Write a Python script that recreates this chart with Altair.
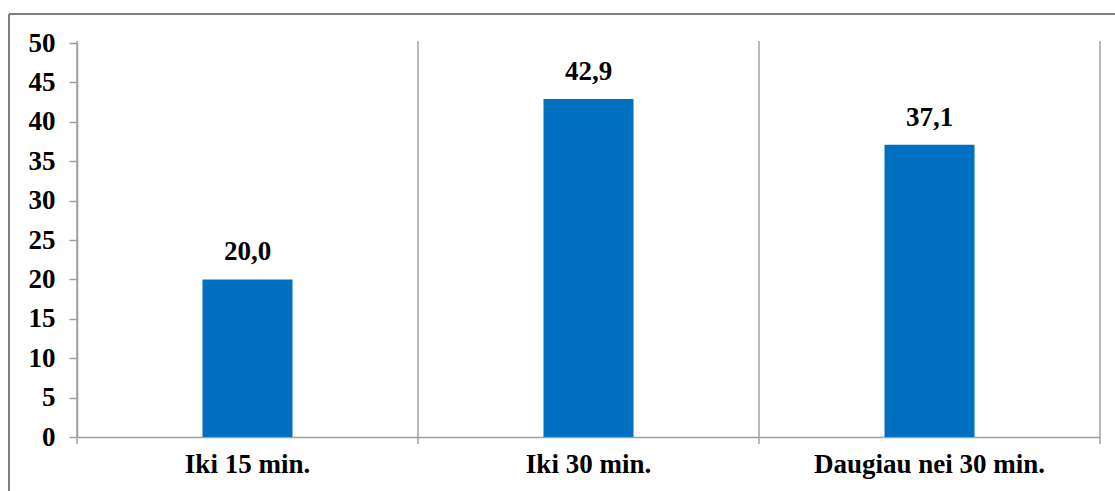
import altair as alt
import pandas as pd

# Share of respondents by time spent (per cent)
categories = ["Iki 15 min.", "Iki 30 min.", "Daugiau nei 30 min."]
values = [20.0, 42.9, 37.1]
y_ticks = [0, 5, 10, 15, 20, 25, 30, 35, 40, 45, 50]

labels = [f"{v:.1f}".replace(".", ",") for v in values]
df = pd.DataFrame({"cat": categories, "val": values, "label": labels})

W, H = 1023, 394
FONT = "Liberation Serif"
AXIS_GRAY = "#a0a0a0"
BAR_BLUE = "#0070C0"

x_scale = alt.Scale(domain=categories, paddingInner=0, paddingOuter=0)
y_scale = alt.Scale(domain=[0, 50], nice=False)

x_enc = alt.X(
    "cat:N",
    scale=x_scale,
    sort=categories,
    axis=alt.Axis(
        title=None, ticks=False, labelAngle=0, labelPadding=14,
        bandPosition=0.5, labelAlign="center", labelLimit=0,
        labelFont=FONT, labelFontSize=27, labelFontWeight="bold",
        labelColor="black", domainColor=AXIS_GRAY, domainWidth=1.5,
    ),
)
y_enc = alt.Y(
    "val:Q",
    scale=y_scale,
    axis=alt.Axis(
        title=None, values=y_ticks, tickCount=len(y_ticks), grid=False,
        tickSize=8, tickColor=AXIS_GRAY, tickWidth=1.5,
        domainColor=AXIS_GRAY, domainWidth=1.5, labelPadding=14,
        labelFont=FONT, labelFontSize=27, labelFontWeight="bold",
        labelColor="black", labelOverlap=False,
    ),
)

bars = alt.Chart(df).mark_bar(
    color=BAR_BLUE, width=alt.RelativeBandSize(0.264)
).encode(x=x_enc, y=y_enc)

text = alt.Chart(df).mark_text(
    font=FONT, fontSize=27, fontWeight="bold", color="black",
    baseline="bottom", dy=-13,
).encode(
    x=alt.X("cat:N", scale=x_scale, sort=categories),
    y=alt.Y("val:Q", scale=y_scale),
    text="label:N",
)

# Vertical separators at category boundaries, running a little below the axis
sep_left = alt.Chart(df).mark_rule(color=AXIS_GRAY, strokeWidth=1.5).encode(
    x=alt.X("cat:N", scale=x_scale, sort=categories, bandPosition=0),
    y=alt.value(-2),
    y2=alt.value(H + 7),
)
sep_right = alt.Chart(df.tail(1)).mark_rule(color=AXIS_GRAY, strokeWidth=1.5).encode(
    x=alt.X("cat:N", scale=x_scale, sort=categories, bandPosition=1),
    y=alt.value(-2),
    y2=alt.value(H + 7),
)

# Outer chart frame (top and left edges)
frame_df = pd.DataFrame({"k": [0]})
frame_top = alt.Chart(frame_df).mark_rule(color="#7f7f7f", strokeWidth=2).encode(
    x=alt.value(-68), x2=alt.value(1060), y=alt.value(-29)
)
frame_left = alt.Chart(frame_df).mark_rule(color="#7f7f7f", strokeWidth=2).encode(
    x=alt.value(-68), y=alt.value(-29), y2=alt.value(480)
)

chart = (
    alt.layer(bars, sep_left, sep_right, text, frame_top, frame_left)
    .properties(
        width=W, height=H,
        autosize=alt.AutoSizeParams(type="none"),
        padding={"left": 77, "top": 43, "right": 15, "bottom": 54},
        background="white",
    )
    .configure_view(stroke=None)
)

chart.save("out.html", embed_options={"renderer": "svg", "actions": False})
